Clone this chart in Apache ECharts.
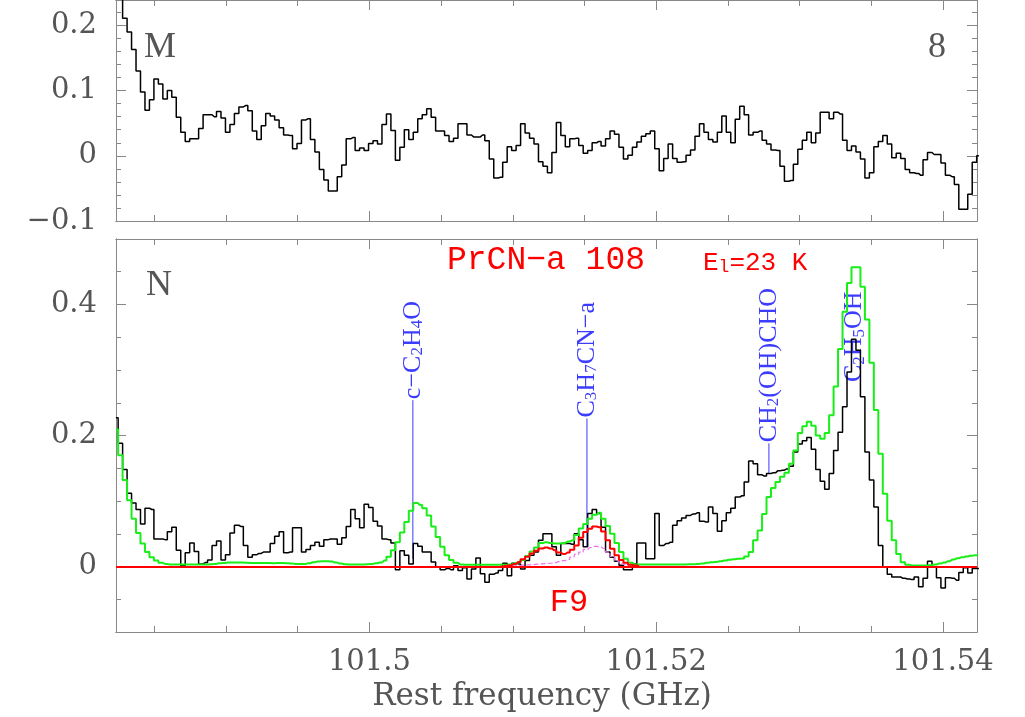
<!DOCTYPE html>
<html>
<head>
<meta charset="utf-8">
<script src="https://cdn.jsdelivr.net/npm/echarts@6/dist/echarts.min.js"></script>
<style>
  html, body { margin: 0; background: #fff; }
  #chart { width: 1025px; height: 717px; }
</style>
</head>
<body>
<div id="chart"></div>
<script>
// channel grid of the spectra (GHz)
const freqStart = 101.482323;
const chanWidth = 0.00031182;

// panel M (top): observed spectrum
const topSpec = [
  0.29, 0.26, 0.211, 0.190, 0.163, 0.130, 0.098, 0.070, 0.086, 0.118,
  0.110, 0.087, 0.100, 0.090, 0.059, 0.036, 0.022, 0.026, 0.026, 0.042,
  0.063, 0.063, 0.060, 0.068, 0.058, 0.036, 0.048, 0.065, 0.075, 0.077,
  0.069, 0.038, 0.025, 0.046, 0.065, 0.061, 0.055, 0.043, 0.032, 0.031,
  0.011, 0.019, 0.055, 0.057, 0.025, 0.006, -0.021, -0.037, -0.054, -0.054,
  -0.032, -0.014, 0.026, 0.028, 0.008, 0.012, 0.008, 0.019, 0.023, 0.018,
  0.048, 0.064, 0.039, -0.007, 0.013, 0.040, 0.025, 0.036, 0.057, 0.063,
  0.072, 0.059, 0.038, 0.038, 0.031, 0.022, 0.027, 0.049, 0.049, 0.032,
  0.029, 0.029, 0.032, 0.023, -0.005, -0.034, -0.033, -0.010, 0.014, 0.008,
  0.016, 0.049, 0.035, 0.027, 0.018, -0.009, -0.016, -0.026, 0.005, 0.051,
  0.031, 0.014, 0.026, 0.027, 0.016, 0.004, 0.008, 0.020, 0.022, 0.015,
  0.026, 0.038, 0.033, 0.013, -0.005, 0.001, 0.013, 0.021, 0.030, 0.034,
  0.038, 0.011, -0.023, -0.004, 0.018, -0.004, -0.010, -0.009, 0.001, 0.009,
  0.030, 0.049, 0.036, 0.025, 0.021, 0.036, 0.061, 0.036, 0.020, 0.056,
  0.076, 0.063, 0.032, 0.036, 0.038, 0.024, 0.018, 0.009, 0.008, -0.016,
  -0.039, -0.038, -0.013, 0.010, 0.024, 0.036, 0.020, 0.035, 0.067, 0.067,
  0.057, 0.067, 0.064, 0.024, 0.008, 0.015, 0.006, -0.005, -0.034, -0.026,
  0.014, 0.022, 0.031, 0.018, -0.003, 0.004, -0.004, -0.021, -0.026, -0.027,
  -0.030, -0.006, 0.005, 0.002, 0.002, -0.011, -0.030, -0.032, -0.044, -0.082,
  -0.082, -0.059, -0.010, 0.0
];

// panel N (bottom): observed spectrum
const botSpec = [
  0.227, 0.188, 0.148, 0.112, 0.097, 0.087, 0.065, 0.089, 0.087, 0.042,
  0.042, 0.041, 0.053, 0.060, 0.025, 0.001, 0.021, 0.036, 0.023, 0.004,
  0.006, 0.010, 0.032, 0.039, 0.010, 0.018, 0.051, 0.063, 0.061, 0.032,
  0.014, 0.018, 0.020, 0.022, 0.022, 0.035, 0.046, 0.053, 0.021, 0.022,
  0.059, 0.059, 0.022, 0.026, 0.032, 0.037, 0.031, 0.041, 0.042, 0.042,
  0.034, 0.044, 0.061, 0.087, 0.073, 0.059, 0.095, 0.090, 0.069, 0.062,
  0.042, 0.041, 0.036, -0.005, 0.024, 0.017, 0.004, 0.035, 0.031, 0.022,
  0.022, 0.007, -0.001, -0.005, -0.003, -0.005, 0.001, -0.006, -0.002, -0.019,
  -0.004, 0.013, -0.011, -0.024, -0.012, -0.010, -0.006, 0.005, -0.014, 0.005,
  0.004, -0.004, 0.009, 0.017, 0.022, 0.040, 0.050, 0.050, 0.030, 0.017,
  0.035, 0.035, 0.034, 0.050, 0.041, 0.030, 0.081, 0.087, 0.081, 0.060,
  0.022, 0.014, 0.008, 0.002, -0.005, -0.005, 0.004, 0.036, 0.036, 0.012,
  0.012, 0.081, 0.032, 0.035, 0.037, 0.063, 0.070, 0.074, 0.078, 0.080,
  0.082, 0.069, 0.068, 0.091, 0.081, 0.054, 0.070, 0.082, 0.089, 0.106,
  0.108, 0.129, 0.161, 0.157, 0.140, 0.138, 0.142, 0.143, 0.146, 0.147,
  0.149, 0.153, 0.175, 0.187, 0.192, 0.197, 0.179, 0.148, 0.130, 0.118,
  0.142, 0.177, 0.205, 0.244, 0.297, 0.347, 0.330, 0.259, 0.175, 0.132,
  0.091, 0.032, -0.001, -0.012, -0.016, -0.016, -0.018, -0.019, -0.020, -0.016,
  -0.031, -0.018, 0.008, -0.001, -0.017, -0.033, -0.017, -0.018, -0.021, -0.009,
  -0.002, -0.010, -0.003, -0.003
];

// full model, all molecules (green)
const allModel = [
  0.209, 0.170, 0.132, 0.101, 0.073, 0.051, 0.035, 0.022, 0.014, 0.009,
  0.0056, 0.004, 0.003, 0.003, 0.003, 0.003, 0.003, 0.003, 0.003, 0.003,
  0.003, 0.0035, 0.004, 0.005, 0.0055, 0.006, 0.006, 0.006, 0.006, 0.0058,
  0.0055, 0.0055, 0.0055, 0.0055, 0.0055, 0.005, 0.0055, 0.0055, 0.005, 0.0045,
  0.004, 0.004, 0.004, 0.005, 0.0065, 0.0075, 0.008, 0.008, 0.0075, 0.006,
  0.0045, 0.0035, 0.003, 0.003, 0.003, 0.003, 0.0035, 0.004, 0.005, 0.006,
  0.009, 0.015, 0.025, 0.037, 0.052, 0.068, 0.085, 0.097, 0.094, 0.089,
  0.078, 0.061, 0.045, 0.030, 0.017, 0.010, 0.0056, 0.003, 0.0025, 0.0025,
  0.0025, 0.0025, 0.0025, 0.0025, 0.0025, 0.0025, 0.0025, 0.0025, 0.003, 0.005,
  0.0066, 0.010, 0.016, 0.023, 0.029, 0.036, 0.037, 0.036, 0.035, 0.035,
  0.036, 0.038, 0.040, 0.048, 0.058, 0.065, 0.073, 0.079, 0.082, 0.073,
  0.062, 0.050, 0.036, 0.022, 0.012, 0.0056, 0.003, 0.003, 0.003, 0.003,
  0.003, 0.003, 0.003, 0.003, 0.003, 0.003, 0.003, 0.003, 0.0033, 0.0036,
  0.004, 0.0046, 0.0056, 0.0066, 0.007, 0.008, 0.0092, 0.0102, 0.011, 0.0117,
  0.0122, 0.0153, 0.022, 0.040, 0.055, 0.080, 0.106, 0.120, 0.129, 0.137,
  0.143, 0.157, 0.177, 0.204, 0.214, 0.221, 0.215, 0.200, 0.195, 0.204,
  0.231, 0.275, 0.332, 0.389, 0.433, 0.457, 0.457, 0.427, 0.377, 0.311,
  0.239, 0.172, 0.111, 0.070, 0.040, 0.019, 0.0066, 0.0025, 0.0015, 0.0015,
  0.0015, 0.0015, 0.002, 0.003, 0.0045, 0.006, 0.008, 0.0105, 0.0125, 0.014,
  0.0153, 0.0165, 0.017, 0.017
];

// PrCN-a model (red), starts at channel 86
const prcnStart = 86;
const prcnModel = [
  0, 0.001, 0.002, 0.004, 0.007, 0.011, 0.015, 0.020, 0.024, 0.0275,
  0.029, 0.0275, 0.025, 0.0214, 0.019, 0.0214, 0.0255, 0.032, 0.044, 0.0525,
  0.0576, 0.061, 0.060, 0.0535, 0.040, 0.027, 0.017, 0.010, 0.0056, 0.0025,
  0.0015, 0
];

// single transition (magenta dashed), starts at channel 87
const lineStart = 87;
const lineModel = [
  0, 0.0005, 0.001, 0.0015, 0.002, 0.0025, 0.003, 0.0035, 0.004, 0.0045,
  0.005, 0.006, 0.0075, 0.009, 0.011, 0.0145, 0.0185, 0.022, 0.026, 0.029,
  0.0306, 0.030, 0.0275, 0.022, 0.015, 0.0085, 0.004, 0.002, 0.001, 0
];

// identified lines (blue)
const idFreqs = [101.50303, 101.51517, 101.52786, 101.53383];
const idLows = [0.012, 0.030, 0.142, 0.280];
const idHighs = [0.254, 0.226, 0.188, 0.280];
const idLabels = [
  '{n|c\u2212C}{s|2}{n|H}{s|4}{n|O}',
  '{n|C}{s|3}{n|H}{s|7}{n|CN\u2212a}',
  '{n|CH}{s|2}{n|(OH)CHO}',
  '{n|C}{s|2}{n|H}{s|5}{n|OH}'
];

// ticks
const xMajor = [101.5, 101.52, 101.54];
const xMinor = [101.485, 101.49, 101.495, 101.5, 101.505, 101.51, 101.515,
  101.52, 101.525, 101.53, 101.535, 101.54];
const yTopMajor = [-0.1, 0, 0.1, 0.2];
const yTopMinor = [-0.08, -0.06, -0.04, -0.02, 0.02, 0.04, 0.06, 0.08,
  0.12, 0.14, 0.16, 0.18, 0.22];
const yBotMajor = [0, 0.2, 0.4];
const yBotMinor = [-0.05, 0.05, 0.1, 0.15, 0.25, 0.3, 0.35, 0.45];

const xMin = 101.48233, xMax = 101.54237;
const frame = '#888';
const labelFont = { color: '#555', fontFamily: 'DejaVu Serif', fontSize: 29 };

const freqs = botSpec.map((_, i) => freqStart + i * chanWidth);
const pairs = (vals, off) => vals.map((v, i) => [freqs[i + off], v]);

function fmt(v) {
  return (v < 0 ? '\u2212' : '') + String(Math.abs(v));
}

function axis(kind, gridIndex, position, ticks, len, labels, min, max) {
  return {
    type: 'value', gridIndex, position, min, max,
    axisLine: { show: true, onZero: false, lineStyle: { color: frame, width: 1 } },
    axisTick: { show: true, inside: true, length: len, customValues: ticks,
      lineStyle: { color: frame, width: 1 } },
    axisLabel: labels
      ? Object.assign({ show: true, customValues: labels, formatter: fmt,
          margin: kind === 'x' ? 16 : 19 }, labelFont)
      : { show: false },
    splitLine: { show: false }
  };
}

const xAxes = [];
const yAxes = [];
[0, 1].forEach(g => {
  xAxes.push(axis('x', g, 'bottom', xMajor, 10, g === 1 ? xMajor : null, xMin, xMax));
  xAxes.push(axis('x', g, 'bottom', xMinor, 6, null, xMin, xMax));
  xAxes.push(axis('x', g, 'top', xMajor, 10, null, xMin, xMax));
  xAxes.push(axis('x', g, 'top', xMinor, 6, null, xMin, xMax));
});
[[yTopMajor, yTopMinor, -0.1, 0.239], [yBotMajor, yBotMinor, -0.1, 0.5]].forEach((t, g) => {
  yAxes.push(axis('y', g, 'left', t[0], 10, t[0], t[2], t[3]));
  yAxes.push(axis('y', g, 'left', t[1], 5, null, t[2], t[3]));
  yAxes.push(axis('y', g, 'right', t[0], 10, null, t[2], t[3]));
  yAxes.push(axis('y', g, 'right', t[1], 5, null, t[2], t[3]));
});

const blue = '#3c3cff';
const blueRich = {
  n: { fontFamily: 'Liberation Serif', fontSize: 26, lineHeight: 26, verticalAlign: 'middle', fill: blue },
  s: { fontFamily: 'Liberation Serif', fontSize: 17, lineHeight: 10, verticalAlign: 'bottom', fill: blue }
};

const stepLine = (name, data, xi, yi, color, width, type) => ({
  name, type: 'line', xAxisIndex: xi, yAxisIndex: yi, data,
  step: 'middle', showSymbol: false, clip: true,
  lineStyle: { color, width, type: type || 'solid' }
});

const chart = echarts.init(document.getElementById('chart'));
chart.setOption({
  animation: false,
  backgroundColor: '#fff',
  grid: [
    { left: 116, right: 48, top: 0, height: 221 },
    { left: 116, right: 48, top: 239, height: 393 }
  ],
  xAxis: xAxes,
  yAxis: yAxes,
  series: [
    stepLine('M', pairs(topSpec, 0), 0, 0, '#000', 1.5),
    stepLine('N', pairs(botSpec, 0), 4, 4, '#000', 1.5),
    stepLine('all', pairs(allModel, 0), 4, 4, '#19ee19', 2),
    stepLine('line', pairs(lineModel, lineStart), 4, 4, '#f070f0', 1.2, 'dashed'),
    Object.assign(stepLine('PrCN-a', pairs(prcnModel, prcnStart), 4, 4, '#ff0000', 2), {
      markLine: {
        silent: true, symbol: 'none', label: { show: false },
        lineStyle: { color: '#ff0000', width: 2, type: 'solid' },
        data: [{ yAxis: 0 }]
      }
    }),
    {
      type: 'custom', xAxisIndex: 4, yAxisIndex: 4,
      data: idFreqs.map((f, i) => [f, idLows[i], idHighs[i]]),
      renderItem: (params, api) => {
        const p0 = api.coord([api.value(0), api.value(1)]);
        const p1 = api.coord([api.value(0), api.value(2)]);
        return {
          type: 'group',
          children: [
            { type: 'line', shape: { x1: p0[0], y1: p0[1], x2: p1[0], y2: p1[1] },
              style: { stroke: blue, lineWidth: 1 } },
            { type: 'text', x: p1[0], y: p1[1] - 1, rotation: Math.PI / 2,
              style: { text: idLabels[params.dataIndex], rich: blueRich, fill: blue,
                align: 'left', verticalAlign: 'middle' } }
          ]
        };
      }
    }
  ],
  graphic: [
    { type: 'text', x: 160, y: 48, style: { text: 'M', font: '36px "Liberation Serif"', fill: '#555', align: 'center', verticalAlign: 'middle' } },
    { type: 'text', x: 937, y: 48, style: { text: '8', font: '36px "Liberation Serif"', fill: '#555', align: 'center', verticalAlign: 'middle' } },
    { type: 'text', x: 159, y: 286, style: { text: 'N', font: '36px "Liberation Serif"', fill: '#555', align: 'center', verticalAlign: 'middle' } },
    { type: 'text', x: 546, y: 260, style: { text: 'PrCN\u2212a 108', font: '33px "Liberation Mono"', fill: '#ff0000', align: 'center', verticalAlign: 'middle' } },
    { type: 'text', x: 703, y: 263, style: {
        text: '{n|E}{s|l}{n|=23 K}', fill: '#ff0000', align: 'left', verticalAlign: 'middle',
        rich: {
          n: { fontFamily: 'Liberation Mono', fontSize: 26, lineHeight: 26, verticalAlign: 'middle', fill: '#ff0000' },
          s: { fontFamily: 'Liberation Mono', fontSize: 18, lineHeight: 10, verticalAlign: 'bottom', fill: '#ff0000' }
        } } },
    { type: 'text', x: 569, y: 603, style: { text: 'F9', font: '32px "Liberation Mono"', fill: '#ff0000', align: 'center', verticalAlign: 'middle' } },
    { type: 'text', x: 542, y: 697, style: { text: 'Rest frequency (GHz)', font: '31px "DejaVu Serif"', fill: '#555', align: 'center', verticalAlign: 'middle' } }
  ]
});
</script>
</body>
</html>
